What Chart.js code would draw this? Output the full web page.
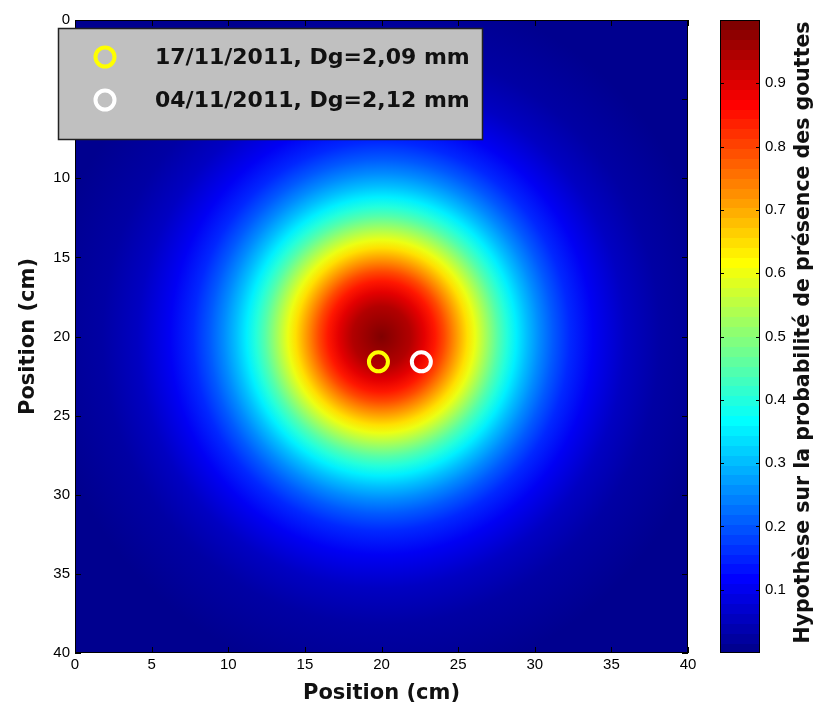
<!DOCTYPE html>
<html>
<head>
<meta charset="utf-8">
<script src="https://cdn.jsdelivr.net/npm/chart.js@4.4.0/dist/chart.umd.min.js"></script>
<style>
  body { margin: 0; background: #fff; }
  #wrap { width: 819px; height: 708px; }
</style>
</head>
<body>
<div id="wrap"><canvas id="myChart" width="819" height="708"></canvas></div>
<script>
// radial profile: probability level and its distance (cm) from the centre
var levels      = [1.0, 0.95, 0.9, 0.85, 0.8, 0.75, 0.7, 0.65, 0.6, 0.55, 0.5, 0.45, 0.4, 0.35, 0.3, 0.25, 0.2, 0.15, 0.1, 0.05, 0.02, 0.0];
var levelRadius = [0,   1.9,  2.8, 3.5,  4.1, 4.6,  5.1, 5.6,  6.1, 6.6,  7.1, 7.6,  8.2, 8.8,  9.5, 10.3, 11.2, 12.3, 13.8, 15.9, 18.2, 22];
var centre = [20, 20];

// drop positions
var seriesNames = ["17/11/2011, Dg=2,09 mm", "04/11/2011, Dg=2,12 mm"];
var seriesColors = ["#ffff00", "#ffffff"];
var dropX = [19.8, 22.6];
var dropY = [21.6, 21.6];

var axisTicks = [0, 5, 10, 15, 20, 25, 30, 35, 40];
var barTicks = [0.1, 0.2, 0.3, 0.4, 0.5, 0.6, 0.7, 0.8, 0.9];
var barTitle = "Hypothèse sur la probabilité de présence des gouttes";

function clamp(v) { return Math.max(0, Math.min(1, v)); }
function jetRaw(v) {
  var r = clamp(Math.min(4 * v - 1.5, -4 * v + 4.5));
  var g = clamp(Math.min(4 * v - 0.5, -4 * v + 3.5));
  var b = clamp(Math.min(4 * v + 0.5, -4 * v + 2.5));
  return 'rgb(' + Math.round(r * 255) + ',' + Math.round(g * 255) + ',' + Math.round(b * 255) + ')';
}
// 64 colour jet like matlab
function jet(v) { return jetRaw((1 + v * 63) / 64); }

var heatmap = {
  id: 'heatmap',
  beforeDatasetsDraw: function (chart) {
    var ctx = chart.ctx, a = chart.chartArea, xs = chart.scales.x, ys = chart.scales.y;
    var cx = xs.getPixelForValue(centre[0]), cy = ys.getPixelForValue(centre[1]);
    var sx = xs.getPixelForValue(1) - xs.getPixelForValue(0);
    var sy = ys.getPixelForValue(1) - ys.getPixelForValue(0);
    var rMax = levelRadius[levelRadius.length - 1];
    ctx.save();
    ctx.beginPath();
    ctx.rect(a.left, a.top, a.right - a.left, a.bottom - a.top);
    ctx.clip();
    ctx.translate(cx, cy);
    ctx.scale(sx, sy);
    var g = ctx.createRadialGradient(0, 0, 0, 0, 0, rMax);
    for (var i = 0; i < levels.length; i++) g.addColorStop(levelRadius[i] / rMax, jet(levels[i]));
    ctx.fillStyle = g;
    ctx.fillRect(-100, -100, 200, 200);
    ctx.restore();

    // box and inward ticks
    ctx.save();
    ctx.strokeStyle = '#000';
    ctx.lineWidth = 1;
    ctx.strokeRect(a.left + 0.5, a.top + 0.5, a.right - a.left - 1, a.bottom - a.top - 1);
    ctx.beginPath();
    axisTicks.forEach(function (t) {
      var px = Math.round(xs.getPixelForValue(t)) + 0.5;
      ctx.moveTo(px, a.bottom); ctx.lineTo(px, a.bottom - 6);
      ctx.moveTo(px, a.top); ctx.lineTo(px, a.top + 6);
      var py = Math.round(ys.getPixelForValue(t)) + 0.5;
      ctx.moveTo(a.left, py); ctx.lineTo(a.left + 6, py);
      ctx.moveTo(a.right, py); ctx.lineTo(a.right - 6, py);
    });
    ctx.stroke();
    ctx.restore();
  },
  afterDraw: function (chart) {
    var ctx = chart.ctx, a = chart.chartArea, cb = chart.scales.cb;
    // colour bar
    var left = a.right + 32, right = a.right + 72;
    ctx.save();
    for (var k = 0; k < 64; k++) {
      var y0 = cb.getPixelForValue(k / 64), y1 = cb.getPixelForValue((k + 1) / 64);
      ctx.fillStyle = jetRaw((k + 1) / 64);
      ctx.fillRect(left, Math.floor(y1), right - left, Math.ceil(y0) - Math.floor(y1));
    }
    ctx.strokeStyle = '#000';
    ctx.lineWidth = 1;
    var top = cb.getPixelForValue(1), bot = cb.getPixelForValue(0);
    ctx.strokeRect(left + 0.5, top + 0.5, right - left - 1, bot - top - 1);
    ctx.beginPath();
    barTicks.forEach(function (t) {
      var py = Math.round(cb.getPixelForValue(t)) + 0.5;
      ctx.moveTo(left, py); ctx.lineTo(left + 4, py);
      ctx.moveTo(right, py); ctx.lineTo(right - 4, py);
    });
    ctx.stroke();
    ctx.translate(804, (top + bot) / 2 - 4);
    ctx.rotate(-Math.PI / 2);
    ctx.fillStyle = '#111';
    ctx.font = 'bold 20.5px "DejaVu Sans"';
    ctx.textAlign = 'center';
    ctx.textBaseline = 'middle';
    ctx.fillText(barTitle, 0, 0);
    ctx.restore();

    // legend
    ctx.save();
    ctx.fillStyle = '#c0c0c0';
    ctx.fillRect(58, 28, 425, 112);
    ctx.strokeStyle = '#222';
    ctx.lineWidth = 1.5;
    ctx.strokeRect(58.5, 28.5, 424, 111);
    chart.data.datasets.forEach(function (ds, i) {
      var yy = 57 + i * 43;
      ctx.beginPath();
      ctx.arc(105, yy, 9.5, 0, Math.PI * 2);
      ctx.strokeStyle = ds.borderColor;
      ctx.lineWidth = 4;
      ctx.stroke();
      ctx.fillStyle = '#111';
      ctx.font = 'bold 22px "DejaVu Sans"';
      ctx.textBaseline = 'middle';
      ctx.fillText(ds.label, 155, yy + 1);
    });
    ctx.restore();
  }
};

var tickFont = { family: '"Liberation Sans", Arial', size: 15 };
var titleFont = { family: '"DejaVu Sans"', size: 21, weight: 'bold' };

function noPad(s) { s.paddingTop = 0; s.paddingBottom = 0; }

var ctx = document.getElementById('myChart').getContext('2d');
var myChart = new Chart(ctx, {
  type: 'scatter',
  data: {
    datasets: seriesNames.map(function (name, i) {
      return {
        label: name,
        data: [{ x: dropX[i], y: dropY[i] }],
        borderColor: seriesColors[i],
        backgroundColor: 'rgba(0,0,0,0)',
        pointRadius: 9.5,
        pointBorderWidth: 4,
        pointHoverRadius: 9.5
      };
    })
  },
  options: {
    responsive: false,
    animation: false,
    layout: { padding: { top: 20, left: 0, right: 0, bottom: 0 } },
    plugins: { legend: { display: false }, tooltip: { enabled: false } },
    scales: {
      x: {
        type: 'linear', position: 'bottom', min: 0, max: 40,
        afterBuildTicks: function (s) { s.ticks = axisTicks.map(function (v) { return { value: v }; }); },
        afterFit: function (s) { s.height = 55; s.paddingLeft = 0; s.paddingRight = 0; },
        ticks: { font: tickFont, color: '#000', padding: 3, maxRotation: 0 },
        grid: { display: false, drawTicks: false },
        border: { display: false },
        title: { display: true, text: 'Position (cm)', font: titleFont, color: '#111', padding: { top: 0, bottom: 2 } }
      },
      y: {
        type: 'linear', position: 'left', min: 0, max: 40, reverse: true,
        afterBuildTicks: function (s) { s.ticks = axisTicks.map(function (v) { return { value: v }; }); },
        afterFit: function (s) { s.width = 75; noPad(s); },
        ticks: { font: tickFont, color: '#000', padding: 5 },
        grid: { display: false, drawTicks: false },
        border: { display: false },
        title: { display: true, text: 'Position (cm)', font: titleFont, color: '#111', padding: { top: 16, bottom: 0 } }
      },
      cb: {
        type: 'linear', position: 'right', min: 0, max: 1,
        afterBuildTicks: function (s) { s.ticks = barTicks.map(function (v) { return { value: v }; }); },
        afterFit: function (s) { s.width = 131; noPad(s); },
        ticks: { font: tickFont, color: '#000', padding: 77, callback: function (v) { return v.toFixed(1); } },
        grid: { display: false, drawTicks: false },
        border: { display: false }
      }
    }
  },
  plugins: [heatmap]
});
</script>
</body>
</html>
